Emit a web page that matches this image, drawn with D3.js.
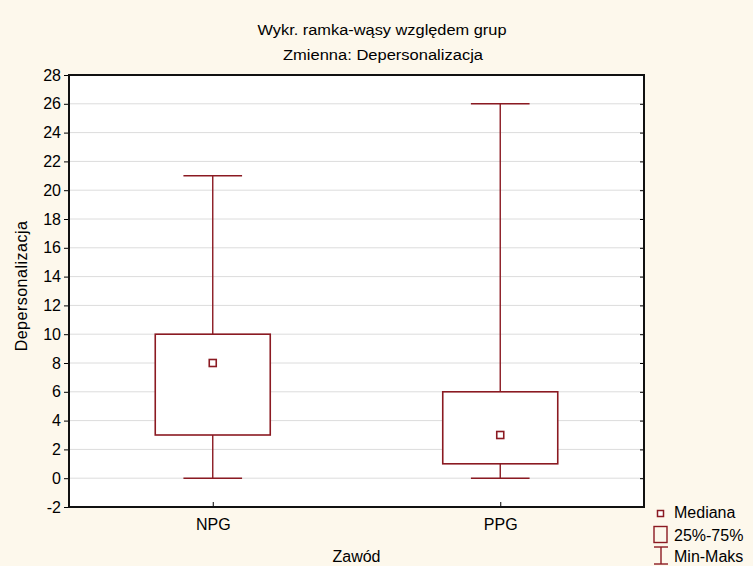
<!DOCTYPE html>
<html>
<head>
<meta charset="utf-8">
<script src="https://cdn.jsdelivr.net/npm/d3@7"></script>
<style>
  body { margin: 0; background: #fdf8ec; }
  svg { display: block; font-family: Arial, "Liberation Sans", sans-serif; }
</style>
</head>
<body>
<script>
// box-whisker stats
var groups = ["NPG", "PPG"];
var minVals = [0, 0];
var q1Vals = [3, 1];
var medVals = [8, 3];
var q3Vals = [10, 6];
var maxVals = [21, 26];
var yTicks = [-2, 0, 2, 4, 6, 8, 10, 12, 14, 16, 18, 20, 22, 24, 26, 28];

var width = 753, height = 566;
var red = "#8b1a22";
var pLeft = 69, pRight = 644, pTop = 75, pBottom = 507;
var fs = 16;

var svg = d3.select("body").append("svg")
  .attr("width", width)
  .attr("height", height);

svg.append("rect").attr("width", width).attr("height", height).attr("fill", "#fdf8ec");

var x = d3.scalePoint().domain(groups).range([pLeft, pRight]).padding(0.5);
var y = d3.scaleLinear().domain([-2, 28]).range([pBottom, pTop]);
var step = x.step();

// plot area
svg.append("rect")
  .attr("x", pLeft).attr("y", pTop)
  .attr("width", pRight - pLeft).attr("height", pBottom - pTop)
  .attr("fill", "#fff");

// gridlines
svg.append("g").selectAll("line")
  .data(yTicks.filter(function(d) { return d > -2 && d < 28; }))
  .enter().append("line")
  .attr("x1", pLeft).attr("x2", pRight)
  .attr("y1", function(d) { return y(d); })
  .attr("y2", function(d) { return y(d); })
  .attr("stroke", "#dcdcdc").attr("stroke-width", 1);

// axes
var yAxis = svg.append("g")
  .attr("transform", "translate(" + pLeft + ",0)")
  .call(d3.axisLeft(y).tickValues(yTicks).tickSize(5).tickPadding(3)
    .tickFormat(function(d) { return String(d); }));
yAxis.select(".domain").remove();
yAxis.selectAll("line").attr("stroke", "#000");
yAxis.selectAll("text").attr("font-size", fs).attr("fill", "#000")
  .attr("font-family", "Arial, 'Liberation Sans', sans-serif");

var yRight = svg.append("g")
  .attr("transform", "translate(" + pRight + ",0)")
  .call(d3.axisRight(y).tickValues(yTicks).tickSize(-4).tickFormat(""));
yRight.select(".domain").remove();
yRight.selectAll("line").attr("stroke", "#000");

var xAxis = svg.append("g")
  .attr("transform", "translate(0," + pBottom + ")")
  .call(d3.axisBottom(x).tickSize(-5).tickPadding(12));
xAxis.select(".domain").remove();
xAxis.selectAll("line").attr("stroke", "#000");
xAxis.selectAll("text").attr("font-size", fs).attr("fill", "#000")
  .attr("font-family", "Arial, 'Liberation Sans', sans-serif");

// frame
svg.append("rect")
  .attr("x", pLeft).attr("y", pTop)
  .attr("width", pRight - pLeft).attr("height", pBottom - pTop)
  .attr("fill", "none").attr("stroke", "#111").attr("stroke-width", 2);

// boxes
var boxW = step * 0.4, capHalf = step * 0.102;
var g = svg.append("g").selectAll("g").data(groups).enter().append("g");

g.append("line")
  .attr("x1", function(d) { return x(d); }).attr("x2", function(d) { return x(d); })
  .attr("y1", function(d, i) { return y(maxVals[i]); })
  .attr("y2", function(d, i) { return y(minVals[i]); })
  .attr("stroke", red).attr("stroke-width", 1.4);

[maxVals, minVals].forEach(function(arr) {
  g.append("line")
    .attr("x1", function(d) { return x(d) - capHalf; })
    .attr("x2", function(d) { return x(d) + capHalf; })
    .attr("y1", function(d, i) { return y(arr[i]); })
    .attr("y2", function(d, i) { return y(arr[i]); })
    .attr("stroke", red).attr("stroke-width", 1.4);
});

g.append("rect")
  .attr("x", function(d) { return x(d) - boxW / 2; })
  .attr("y", function(d, i) { return y(q3Vals[i]); })
  .attr("width", boxW)
  .attr("height", function(d, i) { return y(q1Vals[i]) - y(q3Vals[i]); })
  .attr("fill", "#fff").attr("stroke", red).attr("stroke-width", 1.6);

g.append("rect")
  .attr("x", function(d) { return x(d) - 3.5; })
  .attr("y", function(d, i) { return y(medVals[i]) - 3.5; })
  .attr("width", 7).attr("height", 7)
  .attr("fill", "#fff").attr("stroke", red).attr("stroke-width", 1.6);

// titles
svg.append("text").attr("x", 382).attr("y", 35).attr("text-anchor", "middle")
  .attr("font-size", 15.5).attr("textLength", 249).attr("lengthAdjust", "spacingAndGlyphs")
  .text("Wykr. ramka-wąsy względem grup");
svg.append("text").attr("x", 383).attr("y", 60).attr("text-anchor", "middle")
  .attr("font-size", 15.5).attr("textLength", 200).attr("lengthAdjust", "spacingAndGlyphs")
  .text("Zmienna:  Depersonalizacja");

svg.append("text").attr("x", (pLeft + pRight) / 2).attr("y", 562).attr("text-anchor", "middle")
  .attr("font-size", fs).text("Zawód");
svg.append("text")
  .attr("transform", "translate(27," + 286 + ") rotate(-90)")
  .attr("text-anchor", "middle").attr("font-size", fs).attr("letter-spacing", 0.5)
  .text("Depersonalizacja");

// legend
var lg = svg.append("g").attr("font-size", fs);
lg.append("rect").attr("x", 657.5).attr("y", 510.5).attr("width", 6).attr("height", 6)
  .attr("fill", "#fff").attr("stroke", red).attr("stroke-width", 1.5);
lg.append("text").attr("x", 674).attr("y", 518).text("Mediana");
lg.append("rect").attr("x", 654).attr("y", 526.5).attr("width", 13).attr("height", 16)
  .attr("fill", "none").attr("stroke", red).attr("stroke-width", 1.4);
lg.append("text").attr("x", 674).attr("y", 541).text("25%-75%");
lg.append("line").attr("x1", 661).attr("x2", 661).attr("y1", 547).attr("y2", 564)
  .attr("stroke", red).attr("stroke-width", 1.4);
lg.append("line").attr("x1", 654).attr("x2", 668).attr("y1", 547).attr("y2", 547)
  .attr("stroke", red).attr("stroke-width", 1.4);
lg.append("line").attr("x1", 654).attr("x2", 668).attr("y1", 564).attr("y2", 564)
  .attr("stroke", red).attr("stroke-width", 1.4);
lg.append("text").attr("x", 674).attr("y", 562).text("Min-Maks");
</script>
</body>
</html>
